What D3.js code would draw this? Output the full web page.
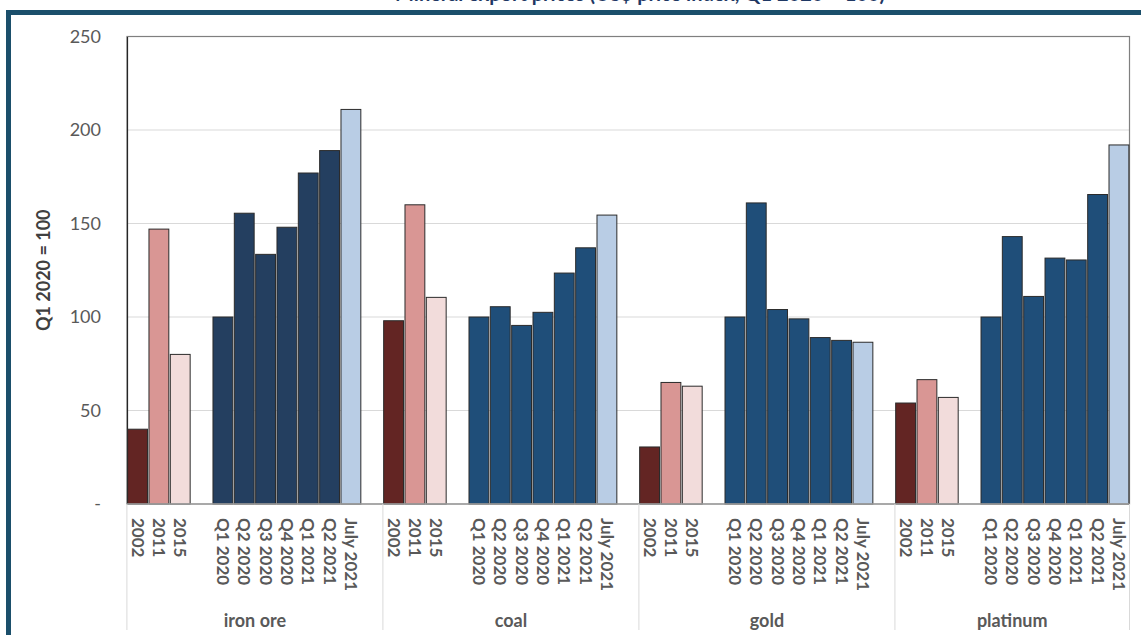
<!DOCTYPE html>
<html>
<head>
  <meta charset="utf-8">
  <script src="https://d3js.org/d3.v7.min.js"></script>
  <style>
    body { margin: 0; background: #fff; }
    text { font-family: Lato, "Open Sans", sans-serif; fill: #595959; }
    .tick-y { font-size: 18px; }
    .tick-x { font-size: 17px; font-weight: bold; }
    .group-label { font-size: 18px; font-weight: bold; }
    .y-title { font-size: 18px; font-weight: bold; fill: #404040; }
  </style>
</head>
<body>
  <script>
    // data
    var groups = ["iron ore", "coal", "gold", "platinum"];
    var periods = ["2002", "2011", "2015", "Q1 2020", "Q2 2020", "Q3 2020", "Q4 2020", "Q1 2021", "Q2 2021", "July 2021"];
    var ironOre  = [40, 147, 80, 100, 155.5, 133.5, 148, 177, 189, 211];
    var coal     = [98, 160, 110.5, 100, 105.5, 95.5, 102.5, 123.5, 137, 154.5];
    var gold     = [30.5, 65, 63, 100, 161, 104, 99, 89, 87.5, 86.5];
    var platinum = [54, 66.5, 57, 100, 143, 111, 131.5, 130.5, 165.5, 192];
    var yTicks = [0, 50, 100, 150, 200, 250];
    var yTitle = "Q1 2020 = 100";
    var chartTitle = "Mineral export prices (US$ price index, Q1 2020 = 100)";

    var seriesByGroup = [ironOre, coal, gold, platinum];

    // styles
    var quarterColors = ["#243f60", "#1f4e79", "#1f4e79", "#1f4e79"];
    function barColor(gi, pi) {
      if (pi === 0) return "#632523";
      if (pi === 1) return "#d99694";
      if (pi === 2) return "#f2dcdb";
      if (pi === periods.length - 1) return "#b9cde5";
      return quarterColors[gi];
    }

    var W = 1141, H = 635;
    var plotL = 127, plotR = 1129.5, plotT = 36.5, plotB = 504;

    var svg = d3.select("body").append("svg")
        .attr("width", W)
        .attr("height", H);

    // slot keys, with blank slots like the excel sheet
    var slots = [];
    var bars = [];
    groups.forEach(function(g, gi) {
      periods.forEach(function(p, pi) {
        if (pi === 3) slots.push(g + "|gap");
        slots.push(g + "|" + p);
        bars.push({group: g, gi: gi, period: p, pi: pi, value: seriesByGroup[gi][pi]});
      });
      if (gi < groups.length - 1) slots.push(g + "|end");
    });

    var x = d3.scaleBand()
        .domain(slots)
        .range([plotL, plotR])
        .paddingInner(0.07)
        .paddingOuter(0.03);

    var y = d3.scaleLinear()
        .domain([0, 250])
        .range([plotB, plotT]);

    // outer frame
    svg.append("rect")
        .attr("x", 8.5).attr("y", 12.5)
        .attr("width", W + 20).attr("height", H + 20)
        .attr("fill", "none")
        .attr("stroke", "#1b4f6b")
        .attr("stroke-width", 5);

    // title (clipped at the top like the original, only descenders show)
    svg.append("text")
        .attr("x", 640).attr("y", 0.5)
        .attr("text-anchor", "middle")
        .style("font-size", "20px")
        .style("font-weight", "bold")
        .style("fill", "#1f3864")
        .text(chartTitle);

    // gridlines
    svg.append("g")
      .selectAll("line")
      .data(yTicks.filter(function(d) { return d > 0 && d < 250; }))
      .enter().append("line")
        .attr("x1", plotL).attr("x2", plotR)
        .attr("y1", function(d) { return y(d); })
        .attr("y2", function(d) { return y(d); })
        .attr("stroke", "#d9d9d9")
        .attr("stroke-width", 1);

    // plot area border
    svg.append("rect")
        .attr("x", plotL).attr("y", plotT)
        .attr("width", plotR - plotL).attr("height", plotB - plotT)
        .attr("fill", "none")
        .attr("stroke", "#7f7f7f")
        .attr("stroke-width", 1.2);

    // y axis
    var yAxis = d3.axisLeft(y)
        .tickValues(yTicks)
        .tickSize(0)
        .tickPadding(26)
        .tickFormat(function(d) { return d === 0 ? "-" : d; });

    var gy = svg.append("g")
        .attr("transform", "translate(" + plotL + ",0)")
        .call(yAxis);
    gy.attr("font-family", null).attr("font-size", null);
    gy.select(".domain").attr("stroke", "#262626").attr("stroke-width", 1.2);
    gy.selectAll("text").attr("class", "tick-y");

    svg.append("text")
        .attr("class", "y-title")
        .attr("transform", "translate(50," + ((plotT + plotB) / 2) + ") rotate(-90)")
        .attr("text-anchor", "middle")
        .text(yTitle);

    // bars
    svg.append("g")
      .selectAll("rect")
      .data(bars)
      .enter().append("rect")
        .attr("x", function(d) { return x(d.group + "|" + d.period); })
        .attr("width", x.bandwidth())
        .attr("y", function(d) { return y(d.value); })
        .attr("height", function(d) { return plotB - y(d.value); })
        .attr("fill", function(d) { return barColor(d.gi, d.pi); })
        .attr("stroke", "#2b2b2b")
        .attr("stroke-width", 1);

    // x baseline
    svg.append("line")
        .attr("x1", plotL).attr("x2", plotR)
        .attr("y1", plotB).attr("y2", plotB)
        .attr("stroke", "#a6a6a6")
        .attr("stroke-width", 1.5);

    // group separators below the axis
    var step = x.step();
    var groupEdges = groups.map(function(g) { return x(g + "|" + periods[0]) - step * 0.035; });
    groupEdges.push(plotR);
    svg.append("g")
      .selectAll("line")
      .data(groupEdges)
      .enter().append("line")
        .attr("x1", function(d) { return d; })
        .attr("x2", function(d) { return d; })
        .attr("y1", plotB).attr("y2", 630)
        .attr("stroke", "#d9d9d9")
        .attr("stroke-width", 1);

    // period labels
    svg.append("g")
      .selectAll("text")
      .data(bars)
      .enter().append("text")
        .attr("class", "tick-x")
        .attr("transform", function(d) {
          var cx = x(d.group + "|" + d.period) + x.bandwidth() / 2;
          return "translate(" + cx + ",518) rotate(90)";
        })
        .attr("dy", "0.35em")
        .text(function(d) { return d.period; });

    // group labels
    svg.append("g")
      .selectAll("text")
      .data(groups)
      .enter().append("text")
        .attr("class", "group-label")
        .attr("x", function(d, i) { return (groupEdges[i] + groupEdges[i + 1]) / 2; })
        .attr("y", 627)
        .attr("text-anchor", "middle")
        .text(function(d) { return d; });
  </script>
</body>
</html>
